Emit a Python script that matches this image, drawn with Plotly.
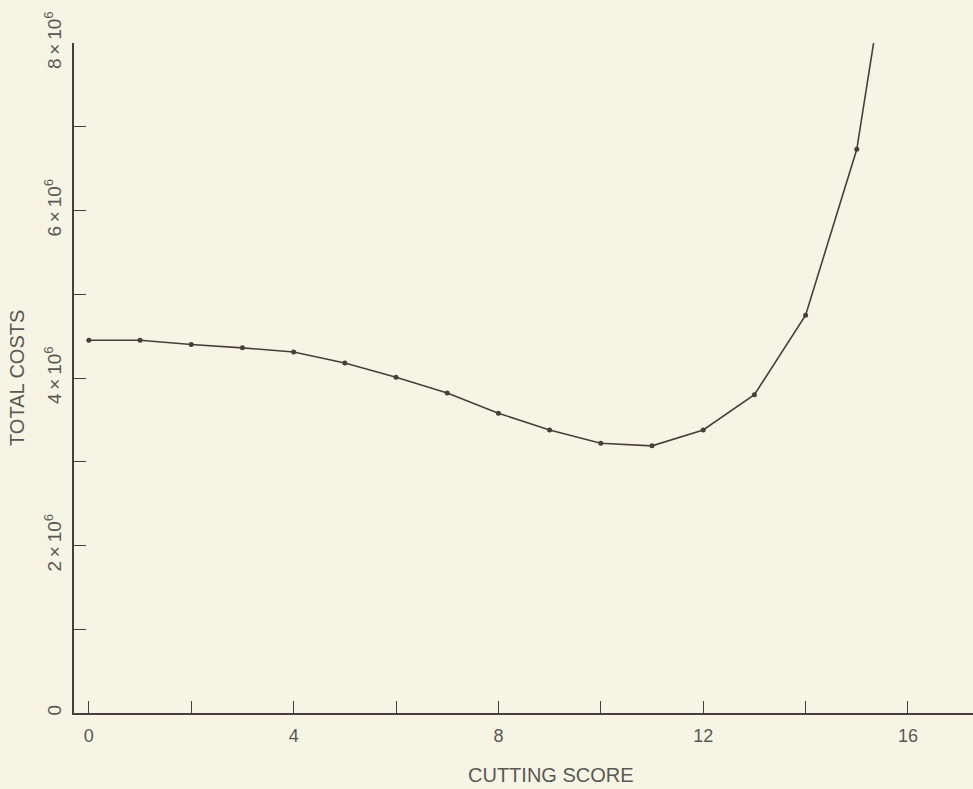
import plotly.graph_objects as go

# Data
cutting_score = [0, 1, 2, 3, 4, 5, 6, 7, 8, 9, 10, 11, 12, 13, 14, 15, 16]
total_costs = [4.45e6, 4.45e6, 4.40e6, 4.36e6, 4.31e6, 4.18e6, 4.01e6, 3.82e6,
               3.58e6, 3.38e6, 3.22e6, 3.19e6, 3.38e6, 3.80e6, 4.75e6, 6.73e6, 10.6e6]

x_tickvals = [0, 4, 8, 12, 16]
x_ticktext = ["0", "4", "8", "12", "16"]
y_tickvals = [0, 2e6, 4e6, 6e6, 8e6]
y_ticktext = ["0", "2\u2009×\u200910<sup>6</sup>", "4\u2009×\u200910<sup>6</sup>",
              "6\u2009×\u200910<sup>6</sup>", "8\u2009×\u200910<sup>6</sup>"]

ink = "#45403b"
txt = "#5a5854"
bg = "#f6f5e5"
font_family = "Liberation Sans, Arial, sans-serif"

fig = go.Figure()
fig.add_trace(go.Scatter(
    x=cutting_score, y=total_costs,
    mode="lines+markers",
    line=dict(color=ink, width=1.6),
    marker=dict(color=ink, size=5, symbol="circle"),
    showlegend=False,
    cliponaxis=True,
))

fig.update_layout(
    width=973, height=789,
    margin=dict(l=74, r=0, t=43, b=76),
    paper_bgcolor=bg, plot_bgcolor=bg,
    font=dict(family=font_family, color=txt),
)

fig.update_xaxes(
    range=[-0.29, 17.27],
    showgrid=False, zeroline=False,
    showline=True, linecolor=ink, linewidth=1.5,
    tickmode="array", tickvals=x_tickvals, ticktext=x_ticktext,
    ticks="inside", ticklen=12, tickwidth=1, tickcolor=ink,
    ticklabelstandoff=6,
    tickfont=dict(size=18, color=txt, family=font_family),
    minor=dict(dtick=2, tick0=0, ticks="inside", ticklen=12, tickwidth=1, tickcolor=ink, showgrid=False),
)
fig.update_yaxes(
    range=[0, 8e6],
    showgrid=False, zeroline=False,
    showline=True, linecolor=ink, linewidth=1.5,
    tickmode="array", tickvals=y_tickvals, ticktext=y_ticktext,
    ticks="inside", ticklen=12, tickwidth=1, tickcolor=ink,
    tickangle=-90,
    ticklabelstandoff=4,
    tickfont=dict(size=19, color=txt, family=font_family),
    minor=dict(dtick=1e6, tick0=0, ticks="inside", ticklen=12, tickwidth=1, tickcolor=ink, showgrid=False),
)

fig.add_annotation(
    text="CUTTING SCORE", xref="paper", yref="paper",
    x=(551 - 74) / (973 - 74), y=0, yshift=-62,
    showarrow=False, xanchor="center", yanchor="middle",
    font=dict(size=20, color=txt, family=font_family),
)
fig.add_annotation(
    text="TOTAL COSTS", xref="paper", yref="paper",
    x=0, xshift=-57, y=0.5,
    showarrow=False, xanchor="center", yanchor="middle", textangle=-90,
    font=dict(size=20, color=txt, family=font_family),
)

fig.write_html("out.html", config={"displayModeBar": False})

# remove the default page margin so the figure fills the window exactly
with open("out.html", "r", encoding="utf-8") as f:
    html = f.read()
html = html.replace("<head>", "<head><style>html,body{margin:0;padding:0;overflow:hidden;}</style>", 1)
with open("out.html", "w", encoding="utf-8") as f:
    f.write(html)
